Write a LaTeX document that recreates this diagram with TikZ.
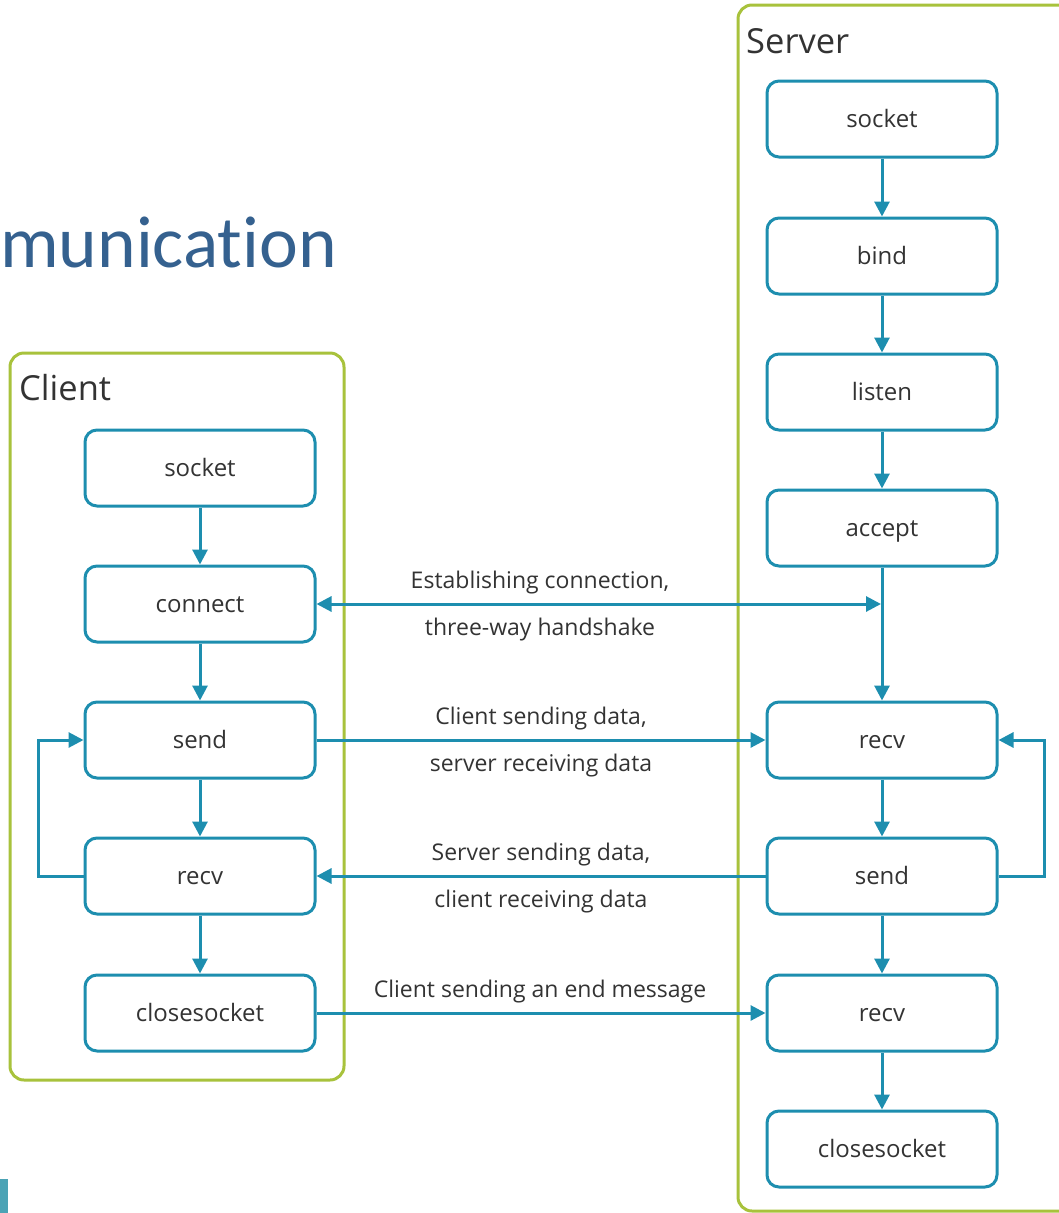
\documentclass[tikz,border=0pt]{standalone}
\usepackage{fontspec}
\setmainfont{Open Sans}
\newfontfamily\titlefont[Ligatures=NoCommon]{Carlito}
\usetikzlibrary{arrows.meta}

\definecolor{flowteal}{HTML}{1D8EAF}
\definecolor{groupgreen}{HTML}{A8C23C}
\definecolor{inktext}{HTML}{333333}
\definecolor{titleblue}{HTML}{35618F}
\definecolor{accentbar}{HTML}{4BA3B5}

\tikzset{
  callbox/.style={draw=flowteal, line width=3pt, rounded corners=12pt, fill=white,
    minimum width=230pt, minimum height=76pt, inner sep=0pt,
    text height=22pt, text depth=5pt,
    font=\fontsize{24}{28}\selectfont, text=inktext},
  group/.style={draw=groupgreen, line width=3pt, rounded corners=14pt},
  grouplabel/.style={anchor=base west, inner sep=0pt, font=\fontsize{34.5}{40}\selectfont, text=inktext},
  flow/.style={draw=flowteal, line width=3pt, -{Triangle[length=15pt,width=15pt]}},
  flowboth/.style={draw=flowteal, line width=3pt, {Triangle[length=15pt,width=15pt]}-{Triangle[length=15pt,width=15pt]}},
  msg/.style={anchor=base, inner sep=0pt, font=\fontsize{23}{27}\selectfont, text=inktext},
}

\begin{document}
\begin{tikzpicture}[x=1pt, y=-1pt]
\useasboundingbox (0,0) rectangle (1059,1213);

% slide title and accent bar
\node[anchor=base west, inner sep=0pt, text=titleblue, font=\titlefont\fontsize{73.5}{80}\selectfont] (title) at (0,267) {munication};
\fill[accentbar] (0,1179) rectangle (8,1213);

% group frames
\draw[group] (10,353) rectangle (344,1080);
\draw[group] (738,5) rectangle (1090,1211);
\node[grouplabel] (clientlbl) at (19,400) {Client};
\node[grouplabel] (serverlbl) at (746,53) {Server};

% client calls
\node[callbox] (csocket)  at (200,468)  {socket};
\node[callbox] (cconnect) at (200,604)  {connect};
\node[callbox] (csend)    at (200,740)  {send};
\node[callbox] (crecv)    at (200,876)  {recv};
\node[callbox] (cclose)   at (200,1013) {closesocket};

% server calls
\node[callbox] (ssocket) at (882,119)  {socket};
\node[callbox] (sbind)   at (882,256)  {bind};
\node[callbox] (slisten) at (882,392)  {listen};
\node[callbox] (saccept) at (882,528)  {accept};
\node[callbox] (srecv)   at (882,740)  {recv};
\node[callbox] (ssend)   at (882,876)  {send};
\node[callbox] (srecvb)  at (882,1013) {recv};
\node[callbox] (sclose)  at (882,1149) {closesocket};

% client sequence
\draw[flow] (csocket) -- (cconnect);
\draw[flow] (cconnect) -- (csend);
\draw[flow] (csend) -- (crecv);
\draw[flow] (crecv) -- (cclose);
\draw[flow] (crecv.west) -- ++(-45,0) |- (csend.west);

% server sequence
\draw[flow] (ssocket) -- (sbind);
\draw[flow] (sbind) -- (slisten);
\draw[flow] (slisten) -- (saccept);
\draw[flow] (saccept) -- (srecv);
\draw[flow] (srecv) -- (ssend);
\draw[flow] (ssend) -- (srecvb);
\draw[flow] (srecvb) -- (sclose);
\draw[flow] (ssend.east) -- ++(46,0) |- (srecv.east);

% exchanges between client and server
\coordinate (handshake) at (881,604);
\draw[flowboth] (cconnect.east) -- (handshake);
\draw[flow] (csend.east) -- (srecv.west);
\draw[flow] (ssend.west) -- (crecv.east);
\draw[flow] (cclose.east) -- (srecvb.west);

\node[msg] (m1a) at (540,588) {Establishing connection,};
\node[msg] (m1b) at (540,635) {three-way handshake};
\node[msg] (m2a) at (541,724) {Client sending data,};
\node[msg] (m2b) at (541,771) {server receiving data};
\node[msg] (m3a) at (541,860) {Server sending data,};
\node[msg] (m3b) at (541,907) {client receiving data};
\node[msg] (m4)  at (540,997) {Client sending an end message};
\end{tikzpicture}
\end{document}
